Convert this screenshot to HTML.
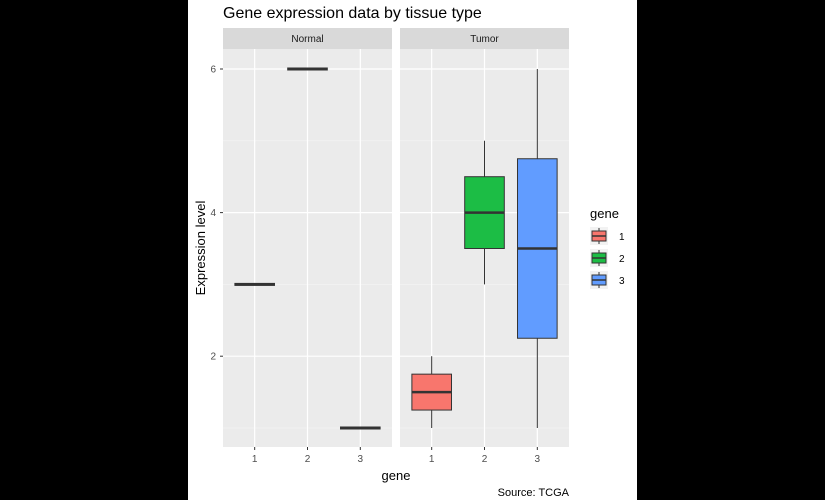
<!DOCTYPE html>
<html><head><meta charset="utf-8"><style>
body{margin:0;background:#000;}
svg{display:block;font-family:"Liberation Sans",Arial,sans-serif;}
</style></head><body>
<svg width="825" height="500">
<rect x="0" y="0" width="825" height="500" fill="#000"/>
<rect x="188" y="0" width="449" height="500" fill="#fff"/>
<text x="223" y="18" font-size="16" fill="#000">Gene expression data by tissue type</text>
<g id="g"></g>
<text x="205" y="248" font-size="13" transform="rotate(-90 205 248)" text-anchor="middle">Expression level</text>
<text x="396" y="480" font-size="13" text-anchor="middle">gene</text>
<text x="569" y="496" font-size="11" text-anchor="end">Source: TCGA</text>
<text x="590" y="218" font-size="13">gene</text>
</svg>
<script>
const panels=["Normal","Tumor"];
const genes=["1","2","3"];
const yTicks=[2,4,6];
const normalValues=[3,6,1];
const tumorMin=[1,3,1];
const tumorQ1=[1.25,3.5,2.25];
const tumorMed=[1.5,4,3.5];
const tumorQ3=[1.75,4.5,4.75];
const tumorMax=[2,5,6];
const colors=["#F8766D","#1CBD45","#619CFF"];
const NS="http://www.w3.org/2000/svg";
const g=document.getElementById('g');
const panelX=[223,400],pw=169,pTop=49,bot=447;
function y(v){return 428-(v-1)*71.8;}
function x(p,i){return panelX[p]+(i+1-0.4)*pw/3.2;}
function mk(t,a,parent){const e=document.createElementNS(NS,t);for(const k in a)e.setAttribute(k,a[k]);(parent||g).appendChild(e);return e;}
panels.forEach((name,p)=>{
  const r=mk('rect',{x:panelX[p],y:pTop,width:pw,height:bot-pTop,fill:'#EBEBEB'});
  
  
  const s=mk('rect',{x:panelX[p],y:28,width:pw,height:21,fill:'#D9D9D9'});
  
  
  const st=mk('text',{x:panelX[p]+pw/2,y:42,'font-size':10,'text-anchor':'middle',fill:'#1A1A1A'});
  st.textContent=name;
  
  
  for(let v=1;v<=6;v+=2){const l=mk('line',{x1:panelX[p],x2:panelX[p]+pw,y1:y(v),y2:y(v),stroke:'#F5F5F5','stroke-width':0.6});
    }
  yTicks.forEach(v=>{const l=mk('line',{x1:panelX[p],x2:panelX[p]+pw,y1:y(v),y2:y(v),stroke:'#fff','stroke-width':1.2});
    });
  genes.forEach((gn,i)=>{
    const l=mk('line',{x1:x(p,i),x2:x(p,i),y1:pTop,y2:bot,stroke:'#fff','stroke-width':1.2});
    
    const tk=mk('line',{x1:x(p,i),x2:x(p,i),y1:bot,y2:bot+3,stroke:'#333'});
    
    const t=mk('text',{x:x(p,i),y:bot+15,'font-size':10,'text-anchor':'middle',fill:'#4D4D4D'});
    t.textContent=gn;
  });
});
yTicks.forEach(v=>{
  const t=mk('text',{x:216,y:y(v)+3.5,'font-size':10,'text-anchor':'end',fill:'#4D4D4D'});
  t.textContent=v;
  const tk=mk('line',{x1:220,x2:223,y1:y(v),y2:y(v),stroke:'#333'});
  
});
const hw=0.375*pw/3.2;
normalValues.forEach((v,i)=>{
  const b=mk('rect',{x:x(0,i)-hw,y:y(v)-1,width:2*hw,height:2,fill:colors[i],stroke:'#333','stroke-width':1});
  
  const m=mk('line',{x1:x(0,i)-hw,x2:x(0,i)+hw,y1:y(v),y2:y(v),stroke:'#333','stroke-width':2.5});
  
});
genes.forEach((gn,i)=>{
  const cx=x(1,i);
  const w=mk('line',{x1:cx,x2:cx,y1:y(tumorMax[i]),y2:y(tumorMin[i]),stroke:'#333','stroke-width':1});
  
  const b=mk('rect',{x:cx-hw,y:y(tumorQ3[i]),width:2*hw,height:y(tumorQ1[i])-y(tumorQ3[i]),fill:colors[i],stroke:'#333','stroke-width':1});
  
  const m=mk('line',{x1:cx-hw,x2:cx+hw,y1:y(tumorMed[i]),y2:y(tumorMed[i]),stroke:'#333','stroke-width':2.5});
  
});
genes.forEach((gn,i)=>{
  const ky=227+i*22;
  const k=mk('rect',{x:590,y:ky,width:18,height:18,fill:'#F2F2F2'});
  
  const ln=mk('line',{x1:599,x2:599,y1:ky+1,y2:ky+17,stroke:'#333'});
  
  const b=mk('rect',{x:592,y:ky+4,width:14,height:10,fill:colors[i],stroke:'#333'});
  
  const m=mk('line',{x1:592,x2:606,y1:ky+9,y2:ky+9,stroke:'#333','stroke-width':1.5});
  
  const t=mk('text',{x:619,y:ky+13,'font-size':10,fill:'#000'});
  t.textContent=gn;
});
</script>
</body></html>
